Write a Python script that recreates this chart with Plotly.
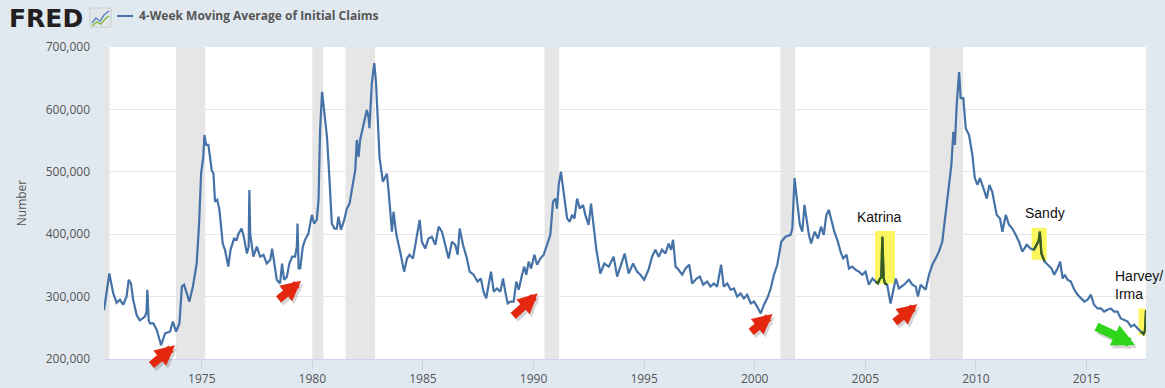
import pandas as pd
import plotly.graph_objects as go

# ---------------- data ----------------
# weekly 4-week moving average of initial claims, sampled; time in decimal years, values in thousands
claims_year = [
    1970.58, 1970.66, 1970.82, 1971.00, 1971.15, 1971.30, 1971.45, 1971.60, 1971.70, 1971.80,
    1971.90, 1972.06, 1972.20, 1972.43, 1972.50, 1972.54, 1972.60, 1972.66, 1972.81, 1972.96,
    1973.16, 1973.34, 1973.57, 1973.69, 1973.84, 1973.99, 1974.10, 1974.20, 1974.35, 1974.44,
    1974.60, 1974.77, 1974.88, 1974.97, 1975.07, 1975.12, 1975.20, 1975.30, 1975.45, 1975.53,
    1975.60, 1975.70, 1975.80, 1975.95, 1976.05, 1976.20, 1976.30, 1976.46, 1976.58, 1976.66,
    1976.80, 1976.90, 1977.04, 1977.12, 1977.15, 1977.19, 1977.33, 1977.49, 1977.64, 1977.79,
    1977.94, 1978.10, 1978.18, 1978.27, 1978.39, 1978.54, 1978.63, 1978.72, 1978.85, 1978.96,
    1979.09, 1979.22, 1979.30, 1979.33, 1979.38, 1979.45, 1979.57, 1979.67, 1979.82, 1979.98,
    1980.08, 1980.20, 1980.28, 1980.35, 1980.44, 1980.53, 1980.66, 1980.75, 1980.88, 1981.00,
    1981.10, 1981.18, 1981.29, 1981.44, 1981.56, 1981.68, 1981.83, 1981.94, 1982.01, 1982.09,
    1982.16, 1982.31, 1982.46, 1982.54, 1982.58, 1982.69, 1982.80, 1982.88, 1982.94, 1983.04,
    1983.19, 1983.28, 1983.37, 1983.45, 1983.60, 1983.67, 1983.80, 1983.97, 1984.15, 1984.28,
    1984.39, 1984.55, 1984.70, 1984.85, 1984.95, 1985.10, 1985.25, 1985.40, 1985.56, 1985.71,
    1985.86, 1986.00, 1986.16, 1986.31, 1986.46, 1986.57, 1986.66, 1986.81, 1986.99, 1987.11,
    1987.29, 1987.47, 1987.62, 1987.74, 1987.86, 1987.97, 1988.08, 1988.20, 1988.35, 1988.50,
    1988.62, 1988.72, 1988.83, 1988.95, 1989.10, 1989.22, 1989.33, 1989.48, 1989.58, 1989.67,
    1989.78, 1989.89, 1990.04, 1990.16, 1990.31, 1990.46, 1990.61, 1990.76, 1990.88, 1990.99,
    1991.06, 1991.14, 1991.24, 1991.36, 1991.52, 1991.64, 1991.74, 1991.85, 1991.97, 1992.09,
    1992.24, 1992.34, 1992.49, 1992.60, 1992.72, 1992.84, 1993.02, 1993.20, 1993.40, 1993.62,
    1993.78, 1993.96, 1994.12, 1994.30, 1994.50, 1994.68, 1994.83, 1995.00, 1995.20, 1995.36,
    1995.51, 1995.66, 1995.81, 1995.96, 1996.11, 1996.22, 1996.31, 1996.42, 1996.56, 1996.72,
    1996.87, 1997.04, 1997.17, 1997.37, 1997.52, 1997.67, 1997.85, 1998.00, 1998.15, 1998.30,
    1998.48, 1998.60, 1998.76, 1998.91, 1999.06, 1999.21, 1999.36, 1999.51, 1999.66, 1999.82,
    1999.97, 2000.11, 2000.27, 2000.42, 2000.60, 2000.72, 2000.87, 2001.02, 2001.20, 2001.39,
    2001.62, 2001.70, 2001.80, 2001.92, 2002.04, 2002.15, 2002.25, 2002.45, 2002.55, 2002.71,
    2002.86, 2003.00, 2003.12, 2003.24, 2003.35, 2003.45, 2003.60, 2003.76, 2003.88, 2004.00,
    2004.15, 2004.26, 2004.41, 2004.56, 2004.71, 2004.86, 2005.01, 2005.16, 2005.32, 2005.47,
    2005.57, 2005.66, 2005.72, 2005.77, 2005.83, 2005.89, 2005.99, 2006.14, 2006.27, 2006.38,
    2006.52, 2006.75, 2006.97, 2007.13, 2007.28, 2007.38, 2007.50, 2007.73, 2007.88, 2008.03,
    2008.18, 2008.33, 2008.48, 2008.63, 2008.78, 2008.89, 2008.98, 2009.05, 2009.13, 2009.24,
    2009.31, 2009.43, 2009.54, 2009.69, 2009.84, 2009.95, 2010.07, 2010.18, 2010.34, 2010.49,
    2010.61, 2010.74, 2010.94, 2011.09, 2011.20, 2011.35, 2011.50, 2011.65, 2011.80, 2011.95,
    2012.10, 2012.30, 2012.47, 2012.62, 2012.78, 2012.84, 2012.89, 2012.96, 2013.11, 2013.26,
    2013.42, 2013.54, 2013.69, 2013.81, 2013.92, 2014.02, 2014.14, 2014.29, 2014.45, 2014.60,
    2014.75, 2014.90, 2015.05, 2015.20, 2015.34, 2015.50, 2015.65, 2015.80, 2015.95, 2016.10,
    2016.25, 2016.40, 2016.55, 2016.70, 2016.86, 2017.01, 2017.16, 2017.31, 2017.46, 2017.58,
    2017.64, 2017.69,
]
claims_k = [
    278, 300, 337, 305, 290, 295, 287, 300, 327, 321,
    295, 270, 262, 268, 275, 311, 262, 257, 257, 247,
    222, 241, 244, 260, 244, 257, 316, 319, 300, 292,
    316, 353, 417, 497, 524, 559, 543, 543, 503, 497,
    452, 455, 439, 385, 375, 348, 375, 393, 391, 401,
    409, 396, 369, 380, 471, 401, 364, 380, 364, 367,
    353, 359, 377, 353, 327, 321, 353, 327, 332, 353,
    364, 364, 380, 417, 345, 345, 380, 391, 401, 431,
    417, 423, 455, 567, 628, 599, 556, 503, 417, 409,
    409, 428, 407, 423, 441, 449, 481, 503, 551, 524,
    551, 578, 599, 588, 570, 642, 674, 642, 586, 522,
    484, 490, 497, 468, 404, 436, 399, 372, 340, 361,
    367, 361, 393, 423, 388, 377, 393, 396, 383, 412,
    404, 383, 361, 388, 383, 367, 409, 383, 361, 340,
    335, 324, 329, 308, 297, 319, 340, 308, 313, 308,
    329, 308, 289, 292, 292, 324, 311, 335, 348, 335,
    356, 345, 367, 351, 361, 367, 383, 399, 452, 457,
    441, 479, 500, 468, 425, 420, 431, 425, 457, 441,
    447, 431, 415, 449, 412, 375, 337, 353, 348, 364,
    332, 353, 369, 337, 353, 340, 335, 327, 343, 364,
    375, 364, 375, 369, 385, 375, 391, 348, 343, 335,
    345, 351, 321, 329, 332, 319, 324, 316, 321, 316,
    351, 316, 321, 311, 313, 300, 305, 297, 303, 289,
    292, 284, 273, 287, 300, 313, 335, 351, 388, 396,
    399, 409, 490, 452, 415, 404, 447, 399, 385, 404,
    393, 412, 399, 431, 439, 425, 404, 388, 372, 361,
    367, 345, 348, 343, 340, 335, 340, 319, 329, 324,
    321, 329, 330, 396, 330, 321, 319, 289, 308, 329,
    313, 319, 327, 319, 316, 300, 319, 311, 335, 351,
    361, 372, 388, 436, 474, 511, 564, 543, 607, 660,
    618, 618, 570, 559, 527, 490, 479, 490, 474, 457,
    479, 468, 431, 425, 404, 431, 415, 409, 399, 388,
    372, 383, 377, 375, 385, 390, 404, 369, 356, 351,
    345, 335, 345, 356, 329, 335, 327, 324, 311, 303,
    297, 292, 295, 303, 287, 281, 281, 276, 279, 281,
    276, 276, 265, 262, 260, 252, 255, 249, 244, 240,
    245, 278,
]

recession_start = ["1969-12-01", "1973-11-01", "1980-01-01", "1981-07-01", "1990-07-01", "2001-03-01", "2007-12-01"]
recession_end = ["1970-11-01", "1975-03-01", "1980-07-01", "1982-11-01", "1991-03-01", "2001-11-01", "2009-06-01"]

event_labels = ["Katrina", "Sandy", "Harvey/<br>Irma"]
y_ticks = [200000, 300000, 400000, 500000, 600000, 700000]
series_name = "4-Week Moving Average of Initial Claims"


# ---------------- helpers ----------------
def yr_to_date(y):
    year = int(y)
    start = pd.Timestamp(year=year, month=1, day=1)
    end = pd.Timestamp(year=year + 1, month=1, day=1)
    return start + (end - start) * (y - year)


dates = [yr_to_date(y) for y in claims_year]
values = [v * 1000 for v in claims_k]

# plot-area geometry in pixels (for margin decorations)
L, R, T, B = 104, 1146, 47, 359


def px(xp):
    return (xp - L) / (R - L)


def py(yp):
    return (B - yp) / (B - T)


BLUE = "#4572a7"
HL_GREEN = "#3a5d1c"
YELLOW = "#fbf65e"
BG = "#e1e9f0"
FONT = "Open Sans"

fig = go.Figure()

fig.add_trace(go.Scatter(
    x=dates, y=values, mode="lines", name=series_name,
    line=dict(color=BLUE, width=2.2), showlegend=False,
    hovertemplate="%{x|%Y-%m-%d}: %{y:,}<extra></extra>",
))

# highlight boxes (event windows) : (start yr, end yr, low, high)
highlights = [
    (2005.44, 2006.34, 321000, 405000),
    (2012.52, 2013.20, 359000, 410000),
    (2017.35, 2017.90, 238000, 281000),
]
shapes = []
for x0, x1, y0, y1 in highlights:
    shapes.append(dict(type="rect", xref="x", yref="y", x0=yr_to_date(x0), x1=yr_to_date(x1),
                       y0=y0, y1=y1, fillcolor=YELLOW, line=dict(width=0), layer="between"))
    seg = [v if (x0 <= yy <= x1 and y0 - 3000 <= v <= y1 + 3000) else None
           for yy, v in zip(claims_year, values)]
    fig.add_trace(go.Scatter(x=dates, y=seg, mode="lines", line=dict(color=HL_GREEN, width=2.2),
                             showlegend=False, hoverinfo="skip", connectgaps=False))

# recession bands
for s, e in zip(recession_start, recession_end):
    shapes.append(dict(type="rect", xref="x", yref="paper", x0=s, x1=e, y0=0, y1=1,
                       fillcolor="#e6e6e6", line=dict(width=0), layer="between"))

# legend swatch line and FRED icon (margin decorations)
shapes.append(dict(type="line", xref="paper", yref="paper", x0=px(117), x1=px(133), y0=py(16), y1=py(16),
                   line=dict(color=BLUE, width=2)))
shapes.append(dict(type="rect", xref="paper", yref="paper", x0=px(90), x1=px(111), y0=py(27), y1=py(8),
                   fillcolor="#e4e7ea", line=dict(color="#c9cdd1", width=1)))


def path(pts):
    return "M " + " L ".join(f"{px(a)},{py(b)}" for a, b in pts)


shapes.append(dict(type="path", xref="paper", yref="paper",
                   path=path([(92, 23), (96, 18), (100, 21), (104, 15), (109, 11)]),
                   line=dict(color="#5b86c5", width=1.5)))
shapes.append(dict(type="path", xref="paper", yref="paper",
                   path=path([(92, 26), (97, 22), (101, 24), (105, 19), (109, 16)]),
                   line=dict(color="#86b84c", width=1.5)))

annotations = []
# FRED logo and series title
annotations.append(dict(xref="paper", yref="paper", x=px(7), y=py(18), xanchor="left", yanchor="middle",
                        text="<b>FRED</b>", showarrow=False,
                        font=dict(family="DejaVu Sans", size=25, color="#231f20")))
annotations.append(dict(xref="paper", yref="paper", x=px(137), y=py(16), xanchor="left", yanchor="middle",
                        text=f"<b>{series_name}</b>", showarrow=False,
                        font=dict(family=FONT, size=12, color="#555555")))

# event labels
label_pos = [(2005.62, 428000, "center"), (2013.12, 434000, "center"), (2016.18, 318000, "left")]
for txt, (lx, ly, anc) in zip(event_labels, label_pos):
    annotations.append(dict(x=yr_to_date(lx), y=ly, text=txt, showarrow=False, xanchor=anc, align="left",
                            yanchor="middle",
                            font=dict(family="Liberation Sans, Arial", size=14, color="#111111")))

# arrows: (tip yr, tip value, ax, ay, colour, width)
arrows = [
    (1973.79, 222000, -25, 21, "#e42810", 8),
    (1979.49, 325500, -24, 20, "#e42810", 8),
    (1990.19, 305300, -26, 24, "#e42810", 8),
    (2000.81, 272000, -23, 19, "#e42810", 8),
    (2007.35, 287600, -24, 19, "#e42810", 8),
    (2017.19, 222400, -40, -19, "#2fd51a", 9),
]
for ty, tv, ax, ay, col, w in arrows:
    annotations.append(dict(x=yr_to_date(ty), y=tv, ax=ax, ay=ay, text="", showarrow=True,
                            arrowhead=2, arrowsize=0.5, arrowwidth=w, arrowcolor="rgba(0,0,0,0.16)",
                            xshift=2, yshift=-3, standoff=0))
    annotations.append(dict(x=yr_to_date(ty), y=tv, ax=ax, ay=ay, text="", showarrow=True,
                            arrowhead=2, arrowsize=0.5, arrowwidth=w, arrowcolor=col, standoff=0))

fig.update_layout(
    width=1165, height=388,
    margin=dict(l=L, r=1165 - R, t=T, b=388 - B, pad=0, autoexpand=False),
    paper_bgcolor=BG, plot_bgcolor="#ffffff",
    font=dict(family=FONT, size=12, color="#555555"),
    shapes=shapes, annotations=annotations,
    xaxis=dict(type="date", range=[dates[0], dates[-1]], tick0="1975-01-01", dtick="M60", tickformat="%Y",
               showgrid=False, zeroline=False, showline=True, linecolor="#ccd6eb", linewidth=1,
               ticks="outside", ticklen=10, tickcolor="#ccd6eb", tickwidth=1, automargin=False,
               tickfont=dict(family=FONT, size=12, color="#555555"), ticklabelstandoff=-1),
    yaxis=dict(range=[200000, 700000], tickvals=y_ticks, tickformat=",", showgrid=True, gridcolor="#e6e6e6",
               gridwidth=1, zeroline=False, showline=False, ticks="", automargin=False,
               tickfont=dict(family=FONT, size=12, color="#555555"), ticklabelstandoff=13,
               title=dict(text="Number", standoff=16, font=dict(family=FONT, size=12, color="#555555"))),
    showlegend=False,
)

fig.write_html(
    "out.html",
    config={"displayModeBar": False},
    post_script=f"document.body.style.margin='0';document.body.style.background='{BG}';",
)
